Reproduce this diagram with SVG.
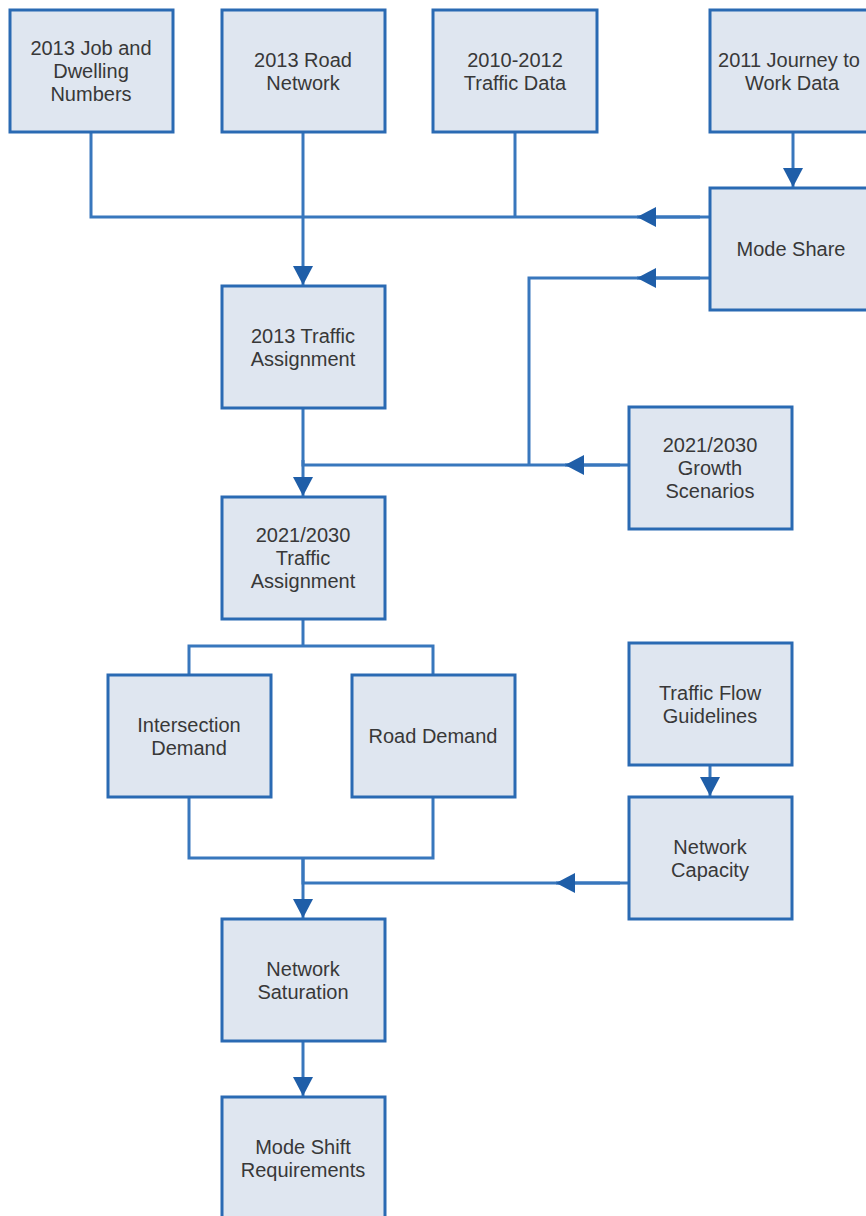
<svg xmlns="http://www.w3.org/2000/svg" width="866" height="1216" viewBox="0 0 866 1216">
<style>
.box{fill:#dfe6f0;stroke:#2a6ab3;stroke-width:3}
.lbl{font-family:"Liberation Sans",Arial,sans-serif;font-size:20px;fill:#383838;text-anchor:middle}
.ln{fill:none;stroke:#3877bd;stroke-width:3}
.arr{marker-end:url(#ah)}
</style>
<defs>
<marker id="ah" markerUnits="userSpaceOnUse" markerWidth="20" markerHeight="20" refX="19" refY="10" orient="auto">
<path d="M0,0 L19,10 L0,20 z" fill="#1f5ea8"/>
</marker>
</defs>
<rect width="866" height="1216" fill="#ffffff"/>
<g id="connectors">
<polyline class="ln" points="91,132 91,217 710,217"/>
<line class="ln" x1="515" y1="132" x2="515" y2="217"/>
<line class="ln arr" x1="700" y1="217" x2="637" y2="217"/>
<line class="ln arr" x1="303" y1="132" x2="303" y2="285"/>
<line class="ln arr" x1="793" y1="132" x2="793" y2="187"/>
<polyline class="ln" points="710,278 529,278 529,465"/>
<line class="ln arr" x1="700" y1="278" x2="637" y2="278"/>
<polyline class="ln" points="303,408 303,465 629,465"/>
<line class="ln arr" x1="620" y1="465" x2="565" y2="465"/>
<line class="ln arr" x1="303" y1="460" x2="303" y2="496"/>
<polyline class="ln" points="303,619 303,646"/>
<polyline class="ln" points="189,675 189,646 433,646 433,675"/>
<polyline class="ln" points="189,797 189,858 433,858 433,797"/>
<polyline class="ln" points="303,858 303,883 629,883"/>
<line class="ln arr" x1="620" y1="883" x2="556" y2="883"/>
<line class="ln arr" x1="303" y1="858" x2="303" y2="918"/>
<line class="ln arr" x1="710" y1="765" x2="710" y2="796"/>
<line class="ln arr" x1="303" y1="1041" x2="303" y2="1096"/>
</g>
<g id="n_jobs"><rect class="box" x="10" y="10" width="163" height="122"/><text class="lbl" x="91" y="55">2013 Job and</text><text class="lbl" x="91" y="78">Dwelling</text><text class="lbl" x="91" y="101">Numbers</text></g>
<g id="n_road"><rect class="box" x="222" y="10" width="163" height="122"/><text class="lbl" x="303" y="67">2013 Road</text><text class="lbl" x="303" y="90">Network</text></g>
<g id="n_trafficdata"><rect class="box" x="433" y="10" width="164" height="122"/><text class="lbl" x="515" y="67">2010-2012</text><text class="lbl" x="515" y="90">Traffic Data</text></g>
<g id="n_journey"><rect class="box" x="710" y="10" width="170" height="122"/><text class="lbl" x="789" y="67">2011 Journey to</text><text class="lbl" x="792" y="90">Work Data</text></g>
<g id="n_modeshare"><rect class="box" x="710" y="188" width="170" height="122"/><text class="lbl" x="791" y="256">Mode Share</text></g>
<g id="n_ta2013"><rect class="box" x="222" y="286" width="163" height="122"/><text class="lbl" x="303" y="343">2013 Traffic</text><text class="lbl" x="303" y="366">Assignment</text></g>
<g id="n_growth"><rect class="box" x="629" y="407" width="163" height="122"/><text class="lbl" x="710" y="452">2021/2030</text><text class="lbl" x="710" y="475">Growth</text><text class="lbl" x="710" y="498">Scenarios</text></g>
<g id="n_ta2030"><rect class="box" x="222" y="497" width="163" height="122"/><text class="lbl" x="303" y="542">2021/2030</text><text class="lbl" x="303" y="565">Traffic</text><text class="lbl" x="303" y="588">Assignment</text></g>
<g id="n_intersection"><rect class="box" x="108" y="675" width="163" height="122"/><text class="lbl" x="189" y="732">Intersection</text><text class="lbl" x="189" y="755">Demand</text></g>
<g id="n_roaddemand"><rect class="box" x="352" y="675" width="163" height="122"/><text class="lbl" x="433" y="743">Road Demand</text></g>
<g id="n_flow"><rect class="box" x="629" y="643" width="163" height="122"/><text class="lbl" x="710" y="700">Traffic Flow</text><text class="lbl" x="710" y="723">Guidelines</text></g>
<g id="n_capacity"><rect class="box" x="629" y="797" width="163" height="122"/><text class="lbl" x="710" y="854">Network</text><text class="lbl" x="710" y="877">Capacity</text></g>
<g id="n_saturation"><rect class="box" x="222" y="919" width="163" height="122"/><text class="lbl" x="303" y="976">Network</text><text class="lbl" x="303" y="999">Saturation</text></g>
<g id="n_modeshift"><rect class="box" x="222" y="1097" width="163" height="130"/><text class="lbl" x="303" y="1154">Mode Shift</text><text class="lbl" x="303" y="1177">Requirements</text></g>
</svg>
